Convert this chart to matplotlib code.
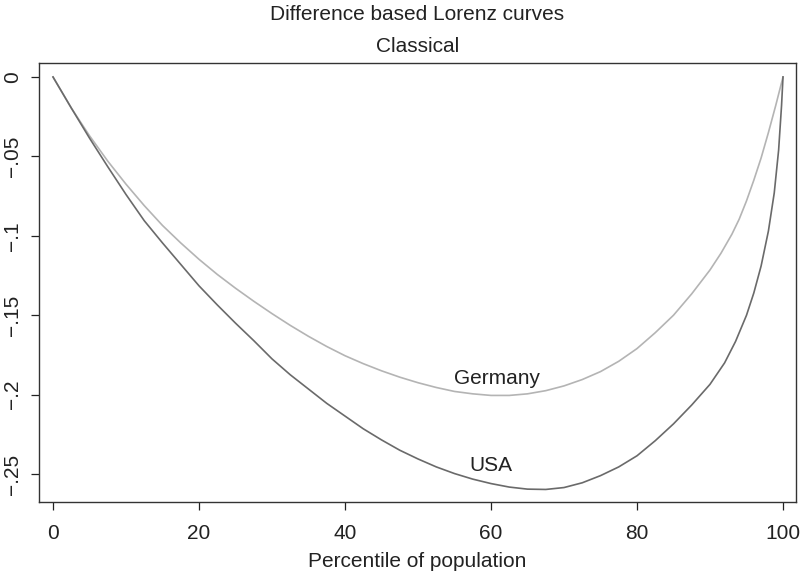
import matplotlib
matplotlib.use("Agg")
import matplotlib.pyplot as plt

plt.rcParams['font.family'] = ['Liberation Sans', 'DejaVu Sans']

# percentile of population and difference based Lorenz values
ger_x = [0, 2.5, 5, 7.5, 10, 12.5, 15, 17.5, 20, 22.5, 25, 27.5, 30, 32.5,
         35, 37.5, 40, 42.5, 45, 47.5, 50, 52.5, 55, 57.5, 60, 62.5, 65,
         67.5, 70, 72.5, 75, 77.5, 80, 82.5, 85, 87.5, 90, 91.5, 93, 94, 95,
         96, 97, 98, 99, 100]
ger_y = [0, -0.0195, -0.037, -0.053, -0.0675, -0.081, -0.0935, -0.1045,
         -0.1148, -0.1243, -0.1330, -0.1412, -0.149, -0.1564, -0.1633,
         -0.1697, -0.1755, -0.1805, -0.185, -0.189, -0.1925, -0.1955, -0.198,
         -0.1995, -0.2005, -0.2005, -0.1995, -0.1975, -0.1945, -0.1905,
         -0.1855, -0.179, -0.171, -0.161, -0.150, -0.1365, -0.1215, -0.111,
         -0.099, -0.0895, -0.078, -0.065, -0.051, -0.035, -0.018, 0]

usa_x = [0, 2.5, 5, 7.5, 10, 12.5, 15, 17.5, 20, 22.5, 25, 27.5, 30, 32.5,
         35, 37.5, 40, 42.5, 45, 47.5, 50, 52.5, 55, 57.5, 60, 62.5, 65,
         67.5, 70, 72.5, 75, 77.5, 80, 82.5, 85, 87.5, 90, 92, 93.5, 95, 96,
         97, 98, 98.8, 99.4, 99.8, 100]
usa_y = [0, -0.0195, -0.0385, -0.0565, -0.074, -0.0905, -0.1045, -0.118,
         -0.1315, -0.1435, -0.155, -0.166, -0.1775, -0.1875, -0.1965,
         -0.2055, -0.2135, -0.2215, -0.2285, -0.235, -0.2405, -0.2455,
         -0.2497, -0.2532, -0.2560, -0.2582, -0.2595, -0.2597, -0.2585,
         -0.2555, -0.251, -0.2455, -0.2385, -0.229, -0.2184, -0.2065,
         -0.1935, -0.180, -0.1665, -0.150, -0.136, -0.119, -0.097, -0.073,
         -0.046, -0.018, 0]

xticks = [0, 20, 40, 60, 80, 100]
yticks = [0, -0.05, -0.1, -0.15, -0.2, -0.25]
ylabels = ['0', '\u2212.05', '\u2212.1', '\u2212.15', '\u2212.2', '\u2212.25']

fig = plt.figure(figsize=(8.02, 5.76), dpi=100)
ax = fig.add_axes([39/802, 74/576, 757/802, 439/576])

ax.plot(ger_x, ger_y, color='#b4b4b4', lw=1.2, solid_joinstyle='round')
ax.plot(usa_x, usa_y, color='#6a6a6a', lw=1.2, solid_joinstyle='round')

ax.text(60.8, -0.1898, 'Germany', fontsize=15, ha='center', va='center', color='#222222')
ax.text(60, -0.2445, 'USA', fontsize=15, ha='center', va='center', color='#222222')

ax.set_xlim(-1.92, 101.78)
ax.set_ylim(-0.2676, 0.0088)
ax.set_xticks(xticks)
ax.set_xticklabels([str(t) for t in xticks])
ax.set_yticks(yticks)
ax.set_yticklabels(ylabels, rotation=90, va='center')
ax.tick_params(axis='x', length=6, width=0.9, pad=10, labelsize=15, colors='#222222')
ax.tick_params(axis='y', length=6, width=0.9, pad=6, labelsize=15, colors='#222222')
for s in ax.spines.values():
    s.set_linewidth(1.0)
    s.set_color('#333333')

ax.set_xlabel('Percentile of population', fontsize=15, color='#222222', labelpad=6)
fig.text(0.5206, 1 - 15/576, 'Difference based Lorenz curves', fontsize=15,
         ha='center', va='center', color='#222222')
fig.text(0.5206, 1 - 46/576, 'Classical', fontsize=15,
         ha='center', va='center', color='#222222')

fig.savefig('out.png', dpi=100, facecolor='white')
